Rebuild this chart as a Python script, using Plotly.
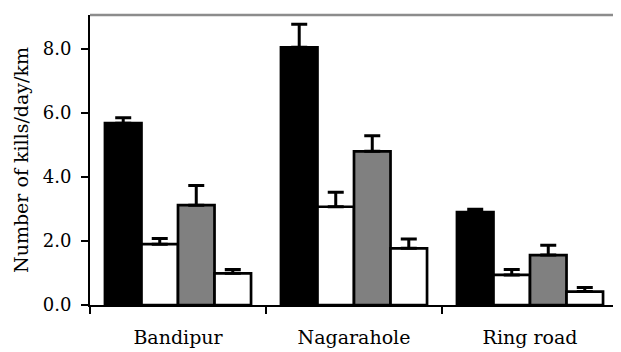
import plotly.graph_objects as go

categories = ["Bandipur", "Nagarahole", "Ring road"]

series1 = [5.68, 8.05, 2.90]
series1_err = [0.17, 0.72, 0.09]
series2 = [1.90, 3.07, 0.94]
series2_err = [0.18, 0.45, 0.17]
series3 = [3.12, 4.80, 1.56]
series3_err = [0.61, 0.49, 0.31]
series4 = [0.99, 1.77, 0.42]
series4_err = [0.12, 0.29, 0.13]

series = [
    ("s1", series1, series1_err, "#000000"),
    ("s2", series2, series2_err, "#ffffff"),
    ("s3", series3, series3_err, "#808080"),
    ("s4", series4, series4_err, "#ffffff"),
]

font_family = "DejaVu Serif"

fig = go.Figure()
for name, vals, errs, col in series:
    fig.add_trace(go.Bar(
        x=categories, y=vals, name=name,
        marker=dict(color=col, line=dict(color="#000000", width=2.7)),
        error_y=dict(type="data", array=errs, symmetric=False,
                     arrayminus=[0] * len(errs),
                     color="#000000", thickness=3, width=8),
        showlegend=False,
    ))

# page body has an 8px margin, so the figure is drawn at (8, 8)
fig.update_layout(
    width=613, height=344,
    margin=dict(l=82, r=3, t=7, b=47),
    barmode="group", bargap=0.17, bargroupgap=0,
    plot_bgcolor="#ffffff", paper_bgcolor="#ffffff",
    font=dict(family=font_family, size=18, color="#000000"),
    shapes=[
        dict(type="line", xref="paper", yref="paper", x0=0, x1=1, y0=1, y1=1,
             line=dict(color="#8c8c8c", width=2.5)),
        dict(type="line", xref="paper", yref="paper", x0=1, x1=1, y0=0, y1=1,
             line=dict(color="#8c8c8c", width=2.5)),
    ],
)
fig.update_xaxes(
    showline=True, linecolor="#000000", linewidth=2,
    ticks="outside", tickson="boundaries", ticklen=7, tickwidth=1.5,
    tickcolor="#000000", showgrid=False,
    tickfont=dict(family=font_family, size=19),
    ticklabelstandoff=14,
)
fig.update_yaxes(
    range=[0, 9.06], dtick=2, tickformat=".1f",
    showline=True, linecolor="#000000", linewidth=2,
    ticks="outside", ticklen=7, tickwidth=1.5, tickcolor="#000000",
    showgrid=False, zeroline=False,
    tickfont=dict(family=font_family, size=18),
    ticklabelstandoff=6,
    title=dict(text="Number of kills/day/km",
               font=dict(family=font_family, size=19), standoff=9),
)

fig.write_html("out.html")
